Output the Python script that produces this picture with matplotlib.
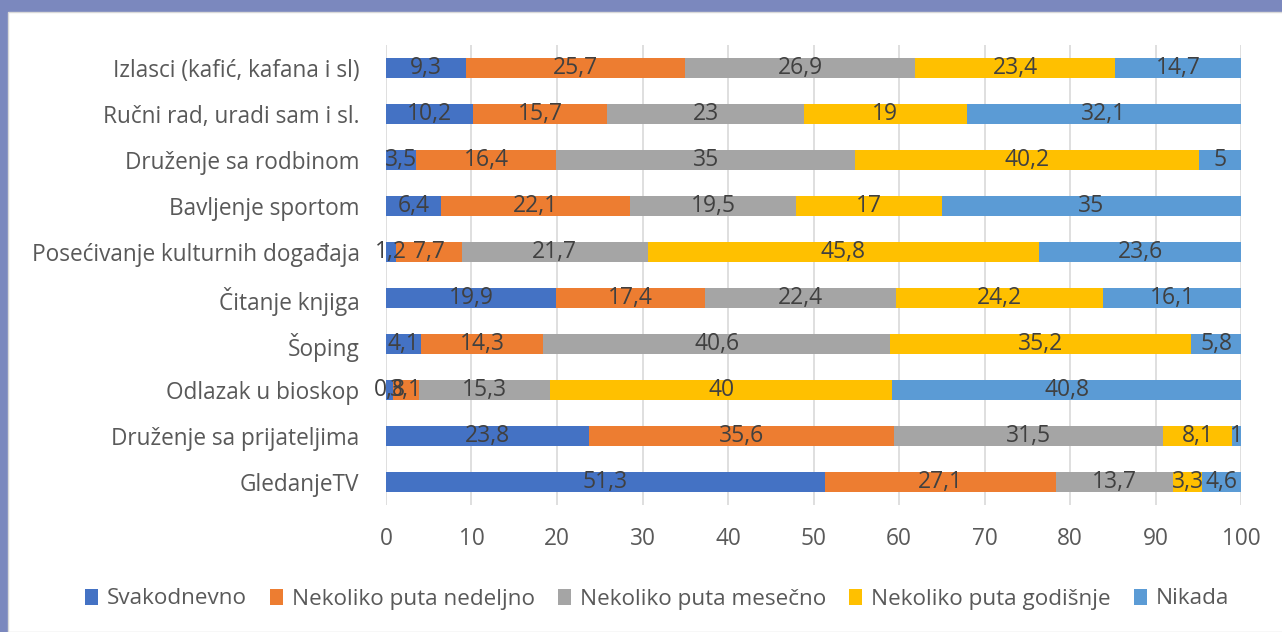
import numpy as np
import matplotlib.pyplot as plt
from matplotlib.patches import Rectangle

# categories (bottom to top)
categories = ["GledanjeTV", "Druženje sa prijateljima", "Odlazak u bioskop", "Šoping",
              "Čitanje knjiga", "Posećivanje kulturnih događaja", "Bavljenje sportom",
              "Druženje sa rodbinom", "Ručni rad, uradi sam i sl.", "Izlasci (kafić, kafana i sl)"]
series_names = ["Svakodnevno", "Nekoliko puta nedeljno", "Nekoliko puta mesečno",
                "Nekoliko puta godišnje", "Nikada"]
svakodnevno = [51.3, 23.8, 0.8, 4.1, 19.9, 1.2, 6.4, 3.5, 10.2, 9.3]
nedeljno = [27.1, 35.6, 3.1, 14.3, 17.4, 7.7, 22.1, 16.4, 15.7, 25.7]
mesecno = [13.7, 31.5, 15.3, 40.6, 22.4, 21.7, 19.5, 35, 23, 26.9]
godisnje = [3.3, 8.1, 40, 35.2, 24.2, 45.8, 17, 40.2, 19, 23.4]
nikada = [4.6, 1, 40.8, 5.8, 16.1, 23.6, 35, 5, 32.1, 14.7]
colors = ["#4472C4", "#ED7D31", "#A5A5A5", "#FFC000", "#5B9BD5"]

plt.rcParams['font.family'] = ['Open Sans', 'DejaVu Sans']

fig = plt.figure(figsize=(12.82, 6.32), dpi=100)
fig.patch.set_facecolor("#7B88BE")
fig.patches.append(Rectangle((8 / 1282, 0), 1, 1 - 12 / 632, transform=fig.transFigure,
                             facecolor="white", edgecolor="#d9d9d9", lw=1, zorder=-10))

ax = fig.add_axes([386 / 1282, 1 - 505 / 632, (1241 - 386) / 1282, 460 / 632])
ax.set_facecolor("none")

y = np.arange(len(categories))
left = np.zeros(len(categories))
for name, vals, c in zip(series_names, [svakodnevno, nedeljno, mesecno, godisnje, nikada], colors):
    vals = np.array(vals, dtype=float)
    bars = ax.barh(y, vals, left=left, height=0.42, color=c, label=name, zorder=2)
    labels = [f"{v:g}".replace(".", ",") for v in vals]
    ax.bar_label(bars, labels=labels, label_type="center", color="#404040", fontsize=16.5)
    left += vals

ax.set_xlim(0, 100)
ax.set_ylim(-0.5, len(categories) - 0.5)
ax.set_xticks(range(0, 101, 10))
ax.set_yticks(y)
ax.set_yticklabels(categories)
ax.grid(axis="x", color="#d9d9d9", lw=1.2, zorder=0)
for s in ax.spines.values():
    s.set_visible(False)
ax.tick_params(axis="both", length=0, labelsize=16.3, labelcolor="#595959")
ax.tick_params(axis="x", pad=16)
ax.tick_params(axis="y", pad=19)

leg = fig.legend(loc="center", bbox_to_anchor=(657 / 1282, 1 - 599 / 632), ncol=5,
                 frameon=False, fontsize=16.2, handlelength=0.6, handleheight=0.7,
                 columnspacing=1.0, handletextpad=0.4)
for t in leg.get_texts():
    t.set_color("#595959")

fig.savefig("out.png", dpi=100, facecolor=fig.get_facecolor())
